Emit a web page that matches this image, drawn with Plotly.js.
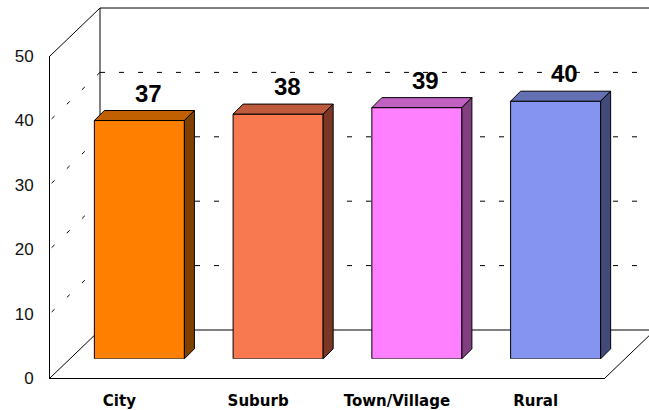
<!DOCTYPE html>
<html>
<head>
<meta charset="utf-8">
<script src="https://cdn.plot.ly/plotly-3.0.1.min.js"></script>
<style>html,body{margin:0;padding:0;background:#fff;}#chart{width:649px;height:410px;}</style>
</head>
<body>
<div id="chart"></div>
<script>
// ---- data ----
const categories = ['City', 'Suburb', 'Town/Village', 'Rural'];
const values = [37, 38, 39, 40];
const yTicks = [0, 10, 20, 30, 40, 50];
const gridValues = [10, 20, 30, 40];
const frontColors = ['#FF8000', '#F87850', '#FF80FF', '#8494F0'];
const topColors = ['#C06000', '#C05A3C', '#C060C0', '#6370B4'];
const sideColors = ['#804000', '#7C3626', '#804080', '#424A7A'];

// ---- geometry (pixels) ----
const W = 649, H = 410;
const frontLeft = 50, frontRight = 605, frontBottom = 378, frontTop = 56;
const depthX = 50, depthY = 48;            // full floor depth offset
const barPlane = 0.4;                      // bar front face depth fraction
const barDepthPx = 10;                     // bar 3D depth in pixels
const yMax = 50;
const pxPerUnit = (frontBottom - frontTop) / yMax;
const px = x => x / W;
const py = y => (H - y) / H;
const frontY = v => frontBottom - v * pxPerUnit;
const backY = v => frontY(v) - depthY;

const barLeft = frontLeft + depthX * barPlane, barRight = frontRight + depthX * barPlane;
const barBottom = frontBottom - depthY * barPlane, barTop = frontTop - depthY * barPlane;
const slotPx = (barRight - barLeft) / categories.length;
const dxU = barDepthPx / slotPx;           // depth in category units
const dyU = barDepthPx / pxPerUnit;        // depth in value units
const barWidth = 0.649;

const idx = categories.map((c, i) => i);
const traces = [];
traces.push({
  type: 'bar', x: idx, y: values, width: barWidth,
  marker: {color: frontColors, line: {color: '#000', width: 1}},
  hoverinfo: 'skip', showlegend: false, xaxis: 'x', yaxis: 'y'
});
categories.forEach((c, i) => {
  const l = i - barWidth / 2, r = i + barWidth / 2, v = values[i];
  traces.push({
    type: 'scatter', mode: 'lines', fill: 'toself', fillcolor: topColors[i],
    x: [l, r, r + dxU, l + dxU, l], y: [v, v, v + dyU, v + dyU, v],
    line: {color: '#000', width: 1}, hoverinfo: 'skip', showlegend: false, xaxis: 'x', yaxis: 'y'
  });
  traces.push({
    type: 'scatter', mode: 'lines', fill: 'toself', fillcolor: sideColors[i],
    x: [r, r + dxU, r + dxU, r, r], y: [0, dyU, v + dyU, v, 0],
    line: {color: '#000', width: 1}, hoverinfo: 'skip', showlegend: false, xaxis: 'x', yaxis: 'y'
  });
});
traces.push({type: 'scatter', x: [], y: [], xaxis: 'x2', yaxis: 'y2', showlegend: false});
traces.push({type: 'scatter', x: [], y: [], xaxis: 'x3', yaxis: 'y3', showlegend: false});

// frame shapes
const line = {color: '#000', width: 1};
const dashBack = {color: '#000', width: 1, dash: '5px,14px'};
const dashSide = {color: '#000', width: 1, dash: '4px,17px'};
const shapes = [];
const backRight = 1.02;
// back wall
shapes.push({type: 'line', layer: 'below', xref: 'paper', yref: 'paper', x0: px(frontLeft + depthX), x1: px(frontLeft + depthX), y0: py(backY(0)), y1: py(backY(yMax)), line});
shapes.push({type: 'line', layer: 'below', xref: 'paper', yref: 'paper', x0: px(frontLeft + depthX), x1: backRight, y0: py(backY(yMax)), y1: py(backY(yMax)), line});
shapes.push({type: 'line', layer: 'below', xref: 'paper', yref: 'paper', x0: px(frontLeft + depthX), x1: backRight, y0: py(backY(0)), y1: py(backY(0)), line});
// side diagonals
shapes.push({type: 'line', layer: 'below', xref: 'paper', yref: 'paper', x0: px(frontLeft), x1: px(frontLeft + depthX), y0: py(frontY(yMax)), y1: py(backY(yMax)), line});
shapes.push({type: 'line', layer: 'below', xref: 'paper', yref: 'paper', x0: px(frontLeft), x1: px(frontLeft + depthX), y0: py(frontY(0)), y1: py(backY(0)), line});
shapes.push({type: 'line', layer: 'below', xref: 'paper', yref: 'paper', x0: px(frontRight), x1: px(frontRight + depthX), y0: py(frontY(0)), y1: py(backY(0)), line});
gridValues.forEach(v => {
  shapes.push({type: 'line', layer: 'below', xref: 'paper', yref: 'y3', x0: px(frontLeft + depthX), x1: backRight, y0: v, y1: v, line: dashBack});
  shapes.push({type: 'line', layer: 'below', xref: 'paper', yref: 'paper', x0: px(frontLeft + depthX), x1: px(frontLeft), y0: py(backY(v)), y1: py(frontY(v)), line: dashSide});
});

const annotations = categories.map((c, i) => ({
  xref: 'x', yref: 'y', x: i + dxU * 0.9, y: values[i] + dyU, text: String(values[i]),
  showarrow: false, yanchor: 'bottom', yshift: 2,
  font: {family: 'Liberation Sans, Arial, sans-serif', size: 24, color: '#000', weight: 'bold'}
}));

const layout = {
  width: W, height: H, margin: {l: 0, r: 0, t: 0, b: 0},
  paper_bgcolor: '#fff', plot_bgcolor: 'rgba(0,0,0,0)', showlegend: false,
  xaxis: {domain: [px(barLeft), px(barRight)], range: [-0.5, categories.length - 0.5], visible: false, fixedrange: true},
  yaxis: {domain: [py(barBottom), py(barTop)], range: [0, yMax], visible: false, fixedrange: true},
  xaxis2: {domain: [px(frontLeft), px(frontRight)], range: [-0.5, categories.length - 0.5], anchor: 'y2',
    tickvals: idx, ticktext: categories, ticks: '', showgrid: false, zeroline: false,
    showline: true, linecolor: '#000', linewidth: 1, ticklabelstandoff: 9,
    tickfont: {family: 'DejaVu Sans, Verdana, sans-serif', size: 15, color: '#000', weight: 'bold'}},
  yaxis2: {domain: [py(frontBottom), py(frontTop)], range: [0, yMax], anchor: 'x2',
    tickvals: yTicks, ticks: '', showgrid: false, zeroline: false,
    showline: true, linecolor: '#000', linewidth: 1, ticklabelstandoff: 12,
    tickfont: {family: 'Liberation Sans, Arial, sans-serif', size: 17, color: '#111'}},
  xaxis3: {domain: [px(frontLeft + depthX), 1], range: [0, 1], visible: false, anchor: 'y3'},
  yaxis3: {domain: [py(backY(0)), py(backY(yMax))], range: [0, yMax], visible: false, anchor: 'x3'},
  shapes, annotations
};
Plotly.newPlot('chart', traces, layout, {staticPlot: true, displayModeBar: false});
</script>
</body>
</html>
